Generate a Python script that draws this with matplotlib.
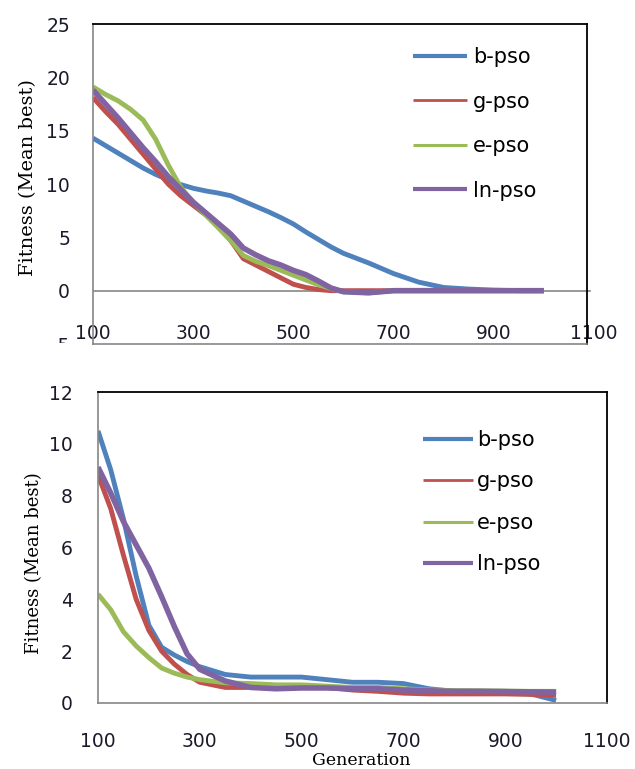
import matplotlib
matplotlib.use("Agg")
import matplotlib.pyplot as plt
from matplotlib.patches import Rectangle
import numpy as np

plt.rcParams["axes.unicode_minus"] = False

# top panel: generations and mean best fitness
gen_top = [100, 125, 150, 175, 200, 225, 250, 275, 300, 325, 350, 375, 400,
           425, 450, 475, 500, 525, 550, 575, 600,
           650, 700, 750, 800, 850, 900, 950, 1000]
top_b = [14.3, 13.6, 12.9, 12.2, 11.5, 10.9, 10.4, 9.95, 9.6, 9.35, 9.15, 8.9, 8.4,
         7.9, 7.4, 6.85, 6.25, 5.5, 4.8, 4.1, 3.5,
         2.6, 1.6, 0.8, 0.3, 0.15, 0.05, 0.0, 0.0]
top_g = [18.1, 16.8, 15.6, 14.2, 12.8, 11.4, 10.0, 8.9, 8.0, 7.1, 6.0, 4.7, 3.0,
         2.4, 1.8, 1.2, 0.6, 0.3, 0.1, 0.0, 0.0,
         0.0, 0.0, 0.0, 0.0, 0.0, 0.0, 0.0, 0.0]
top_e = [19.1, 18.4, 17.8, 17.0, 16.0, 14.2, 11.8, 9.7, 8.3, 7.1, 5.9, 4.7, 3.3,
         2.75, 2.35, 1.9, 1.45, 1.0, 0.55, 0.2, -0.1,
         -0.2, 0.0, 0.0, 0.0, 0.0, 0.0, 0.0, 0.0]
top_ln = [18.8, 17.5, 16.2, 14.8, 13.4, 12.1, 10.7, 9.5, 8.3, 7.3, 6.3, 5.3, 4.0,
          3.35, 2.8, 2.4, 1.9, 1.5, 0.9, 0.25, -0.1,
          -0.2, 0.0, 0.0, 0.0, 0.0, 0.0, 0.0, 0.0]

# bottom panel
gen_bot = [100, 125, 150, 175, 200, 225, 250, 275, 300,
           350, 400, 450, 500, 550, 600, 650, 700, 750, 800, 850, 900, 950, 1000]
bot_b = [10.5, 9.0, 7.1, 4.9, 3.0, 2.15, 1.85, 1.6, 1.4,
         1.1, 1.0, 1.0, 1.0, 0.9, 0.8, 0.8, 0.75, 0.55, 0.45, 0.45, 0.45, 0.35, 0.1]
bot_g = [8.8, 7.5, 5.7, 4.0, 2.8, 2.0, 1.5, 1.1, 0.8,
         0.6, 0.6, 0.65, 0.65, 0.6, 0.5, 0.45, 0.38, 0.35, 0.35, 0.35, 0.35, 0.33, 0.3]
bot_e = [4.2, 3.6, 2.75, 2.2, 1.75, 1.35, 1.15, 1.0, 0.9,
         0.78, 0.75, 0.7, 0.7, 0.65, 0.6, 0.6, 0.55, 0.5, 0.48, 0.47, 0.46, 0.45, 0.45]
bot_ln = [9.1, 8.1, 7.0, 6.1, 5.2, 4.1, 2.95, 1.9, 1.3,
          0.85, 0.6, 0.55, 0.58, 0.58, 0.55, 0.55, 0.5, 0.47, 0.45, 0.45, 0.44, 0.43, 0.42]

labels = ["b-pso", "g-pso", "e-pso", "ln-pso"]
colors = ["#4F81BD", "#C0504D", "#9BBB59", "#8064A2"]
line_w = [3.5, 3.5, 3.5, 4.0]
legend_w = [3.0, 2.0, 2.2, 3.0]

x_ticks = [100, 300, 500, 700, 900, 1100]
gray = "#868686"
tick_col = "#1a1a2a"

W, H = 635, 769
fig = plt.figure(figsize=(W / 100, H / 100), dpi=100)


def style_axes(ax):
    for s in ["top", "right"]:
        ax.spines[s].set_color("black")
        ax.spines[s].set_linewidth(1.3)
    for s in ["left", "bottom"]:
        ax.spines[s].set_color(gray)
        ax.spines[s].set_linewidth(1.2)


# ---- top chart ----
ax1 = fig.add_axes([93 / W, 1 - 344 / H, 501 / W, 320 / H])
for ys, lab, c, lw in zip([top_b, top_g, top_e, top_ln], labels, colors, line_w):
    ax1.plot(gen_top, ys, color=c, lw=lw, label=lab, solid_capstyle="butt")
ax1.set_xlim(100, 1100)
ax1.set_ylim(-5, 25)
style_axes(ax1)
ax1.spines["right"].set_position(("data", 1086))
ax1.spines["top"].set_bounds(100, 1086)
ax1.spines["bottom"].set_bounds(100, 1086)
ax1.axhline(0, xmax=0.992, color=gray, lw=1.2, zorder=0)
ax1.set_xticks(x_ticks)
ax1.set_yticks(np.arange(-5, 26, 5))
ax1.tick_params(axis="x", length=0, pad=-14.5, labelsize=13.5, labelcolor=tick_col)
ax1.tick_params(axis="y", length=0, pad=16.5, labelsize=13.5, labelcolor=tick_col)
ax1.set_ylabel("Fitness (Mean best)", family="DejaVu Serif", fontsize=14)
ax1.yaxis.set_label_coords(-0.112, 0.519)
leg1 = ax1.legend(loc="upper left", bbox_to_anchor=((413 - 93) / 501, (344 - 47) / 320),
                  frameon=False, borderpad=0, borderaxespad=0, handlelength=2.6,
                  handletextpad=0.28, labelspacing=1.18, fontsize=15)
for ln, w in zip(leg1.get_lines(), legend_w):
    ln.set_linewidth(w)

# ---- bottom chart ----
ax2 = fig.add_axes([98 / W, 1 - 703 / H, 509 / W, 311 / H])
for ys, lab, c, lw in zip([bot_b, bot_g, bot_e, bot_ln], labels, colors, line_w):
    ax2.plot(gen_bot, ys, color=c, lw=lw, label=lab, solid_capstyle="butt")
ax2.set_xlim(100, 1100)
ax2.set_ylim(0, 12)
style_axes(ax2)
ax2.set_xticks(x_ticks)
ax2.set_yticks(np.arange(0, 13, 2))
ax2.tick_params(axis="x", length=0, pad=21, labelsize=13.5, labelcolor=tick_col)
ax2.tick_params(axis="y", length=0, pad=18, labelsize=13.5, labelcolor=tick_col)
ax2.set_ylabel("Fitness (Mean best)", family="DejaVu Serif", fontsize=13)
ax2.yaxis.set_label_coords(-0.108, 0.45)
ax2.set_xlabel("Generation", family="DejaVu Serif", fontsize=12.5)
ax2.xaxis.set_label_coords(0.517, -0.158)
leg2 = ax2.legend(loc="upper left", bbox_to_anchor=((423 - 98) / 509, (703 - 430) / 311),
                  frameon=False, borderpad=0, borderaxespad=0, handlelength=2.4,
                  handletextpad=0.2, labelspacing=1.03, fontsize=15)
for ln, w in zip(leg2.get_lines(), legend_w):
    ln.set_linewidth(w)

# the top panel is cut off just below its x axis in the reference
fig.patches.append(Rectangle((0, 1 - 384 / H), 92 / W, 41 / H, transform=fig.transFigure,
                             facecolor="white", edgecolor="none", zorder=10))

fig.savefig("out.png", dpi=100, facecolor="white")
